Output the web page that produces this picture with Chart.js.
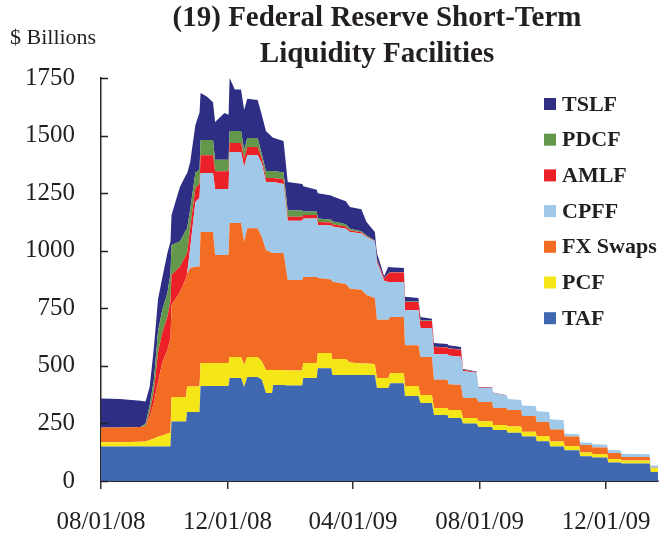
<!DOCTYPE html>
<html>
<head>
<meta charset="utf-8">
<title>Federal Reserve Short-Term Liquidity Facilities</title>
<script src="https://cdn.jsdelivr.net/npm/chart.js@4.4.1/dist/chart.umd.min.js"></script>
<style>
  html, body { margin: 0; padding: 0; background: #fff; }
  #wrap { width: 659px; height: 535px; }
</style>
</head>
<body>
<div id="wrap"><canvas id="facilities_chart" width="659" height="535"></canvas></div>
<script>
// days since 08/01/08 (steps kept as pairs of close days)
const days = [0, 18, 38, 43, 47, 51, 55, 59, 64, 67, 68, 76, 82, 83, 86, 91, 95, 96, 102, 108,
  110, 119, 123, 124, 129, 135, 138, 141, 151, 155, 159, 165, 166, 176, 180, 194, 195, 208, 209, 222,
  223, 236, 240, 251, 256, 264, 266, 273, 277, 279, 292, 293, 306, 308, 319, 321, 334, 335, 347, 349,
  362, 364, 377, 378, 391, 392, 405, 406, 419, 420, 432, 433, 446, 447, 461, 462, 473, 474, 488, 489,
  501, 502, 529, 530, 537];

// $ billions
const taf = [150, 150, 150, 150, 150, 150, 150, 150, 150, 150, 258, 258, 258, 300, 300, 300, 300, 412, 412, 412,
  412, 412, 412, 447, 447, 447, 408, 452, 452, 440, 382, 382, 417, 417, 415, 415, 447, 447, 490, 490,
  460, 460, 460, 460, 460, 460, 404, 404, 404, 425, 425, 369, 369, 339, 339, 287, 287, 274, 274, 250,
  250, 234, 234, 221, 221, 210, 210, 193, 193, 173, 173, 150, 150, 134, 134, 108, 108, 102, 102, 80,
  80, 76, 76, 39, 39];
const pcf = [18, 18, 20, 22, 28, 35, 42, 48, 55, 60, 107, 107, 107, 110, 110, 110, 110, 100, 100, 100,
  100, 100, 100, 91, 91, 91, 96, 86, 86, 80, 100, 100, 65, 65, 65, 65, 65, 65, 66, 66,
  70, 70, 55, 50, 50, 48, 43, 43, 43, 44, 44, 43, 43, 34, 34, 30, 30, 34, 34, 24,
  24, 26, 26, 22, 22, 27, 27, 21, 21, 22, 22, 21, 21, 18, 18, 16, 16, 15, 15, 16,
  16, 13, 13, 17, 17];
const fxSwaps = [64, 64, 65, 68, 102, 155, 238, 314, 364, 410, 399, 455, 515, 490, 515, 520, 520, 569, 569, 569,
  469, 469, 469, 582, 582, 582, 534, 560, 560, 540, 521, 508, 508, 508, 393, 393, 374, 374, 325, 319,
  335, 325, 320, 320, 298, 287, 253, 253, 253, 243, 243, 178, 178, 165, 165, 123, 123, 112, 109, 86,
  86, 83, 83, 74, 74, 71, 71, 68, 68, 61, 61, 53, 53, 41, 41, 32, 32, 28, 28, 26,
  26, 15, 15, 2, 2];
const cpff = [0, 0, 0, 0, 0, 0, 0, 0, 0, 0, 0, 0, 0, 0, 87, 281, 300, 256, 256, 256,
  287, 287, 287, 309, 309, 309, 325, 317, 317, 320, 295, 308, 308, 300, 257, 257, 254, 254, 231, 235,
  240, 240, 246, 245, 252, 245, 250, 170, 164, 152, 152, 152, 152, 126, 126, 110, 110, 125, 123, 118,
  110, 61, 61, 65, 53, 48, 44, 46, 44, 47, 44, 44, 40, 12, 10, 11, 10, 15, 12, 13,
  12, 14, 12, 9, 9];
const amlf = [0, 0, 0, 0, 20, 50, 130, 131, 143, 160, 130, 110, 100, 90, 88, 61, 60, 78, 78, 78,
  77, 77, 77, 39, 39, 39, 37, 35, 35, 20, 18, 18, 18, 20, 18, 18, 15, 15, 13, 12,
  10, 10, 7, 5, 3, 2, 10, 10, 36, 41, 41, 35, 35, 31, 31, 32, 30, 30, 30, 5,
  3, 2, 2, 1, 1, 0, 0, 0, 0, 0, 0, 0, 0, 0, 0, 0, 0, 0, 0, 0,
  0, 0, 0, 0, 0];
const pdcf = [0, 0, 0, 10, 30, 50, 90, 99, 104, 120, 131, 110, 110, 105, 80, 68, 60, 66, 66, 66,
  50, 50, 50, 52, 52, 52, 37, 39, 39, 20, 30, 30, 30, 30, 27, 27, 15, 15, 15, 13,
  13, 10, 7, 5, 3, 2, 2, 2, 2, 2, 2, 2, 2, 2, 2, 1, 1, 1, 1, 0,
  0, 0, 0, 0, 0, 0, 0, 0, 0, 0, 0, 0, 0, 0, 0, 0, 0, 0, 0, 0,
  0, 0, 0, 0, 0];
const tslf = [126, 124, 113, 95, 80, 140, 140, 138, 174, 140, 130, 236, 240, 240, 205, 206, 250, 204, 189, 164,
  164, 203, 195, 230, 180, 180, 174, 171, 166, 170, 174, 148, 144, 136, 123, 115, 110, 95, 110, 105,
  109, 100, 95, 95, 59, 37, 28, 8, 28, 21, 18, 21, 16, 15, 8, 16, 14, 14, 11, 3,
  2, 2, 1, 1, 1, 0, 0, 0, 0, 0, 0, 0, 0, 0, 0, 0, 0, 0, 0, 0,
  0, 0, 0, 0, 0];

const seriesNames = ['TAF', 'PCF', 'FX Swaps', 'CPFF', 'AMLF', 'PDCF', 'TSLF'];
const seriesColors = ['#4068b0', '#f5e617', '#f26c23', '#a0c8e8', '#ec2027', '#63984a', '#2e2e85'];

const tickDays = [0, 122, 243, 365, 487];
const tickLabels = ['08/01/08', '12/01/08', '04/01/09', '08/01/09', '12/01/09'];

const titleLines = ['(19) Federal Reserve Short-Term', 'Liquidity Facilities'];
const unitLabel = '$ Billions';

const serif = '"Liberation Serif", "Times New Roman", serif';
const ink = '#231f20';

function points(values) {
  return days.map((d, i) => ({ x: d, y: values[i] }));
}

const allSeries = [taf, pcf, fxSwaps, cpff, amlf, pdcf, tslf];
const datasets = allSeries.map((vals, i) => ({
  label: seriesNames[i],
  data: points(vals),
  backgroundColor: seriesColors[i],
  borderColor: seriesColors[i],
  borderWidth: 0,
  pointRadius: 0,
  tension: 0,
  fill: i === 0 ? 'origin' : '-1'
}));

// title, unit, inward y ticks and the legend box
const chartDecor = {
  id: 'chartDecor',
  afterDraw(chart) {
    const ctx = chart.ctx;
    const area = chart.chartArea;
    const yScale = chart.scales.y;
    ctx.save();

    ctx.strokeStyle = ink;
    ctx.lineWidth = 1.5;
    yScale.ticks.forEach(function(t) {
      const py = Math.round(yScale.getPixelForValue(t.value)) + 0.5;
      ctx.beginPath();
      ctx.moveTo(area.left, py);
      ctx.lineTo(area.left + 7, py);
      ctx.stroke();
    });

    ctx.fillStyle = ink;
    ctx.textAlign = 'center';
    ctx.textBaseline = 'middle';
    ctx.font = 'bold 29px ' + serif;
    const cx = 377;
    ctx.fillText(titleLines[0], cx, 19);
    ctx.fillText(titleLines[1], cx, 55);

    ctx.textAlign = 'left';
    ctx.font = '22px ' + serif;
    ctx.fillText(unitLabel, 10, 38);

    ctx.font = 'bold 22px ' + serif;
    const ds = chart.data.datasets;
    for (let i = 0; i < ds.length; i++) {
      const d = ds[ds.length - 1 - i];
      const ly = 104 + i * 35.7;
      ctx.fillStyle = d.backgroundColor;
      ctx.fillRect(544, ly - 6, 12, 12);
      ctx.fillStyle = ink;
      ctx.fillText(d.label, 562, ly + 1);
    }
    ctx.restore();
  }
};

const ctx = document.getElementById('facilities_chart').getContext('2d');
const facilitiesChart = new Chart(ctx, {
  type: 'line',
  data: { datasets: datasets },
  options: {
    responsive: false,
    animation: false,
    devicePixelRatio: 1,
    layout: { padding: { top: 78, right: 1, left: 0, bottom: 0 } },
    plugins: {
      legend: { display: false },
      tooltip: { enabled: false },
      title: { display: false }
    },
    scales: {
      x: {
        type: 'linear',
        min: 0,
        max: days[days.length - 1],
        z: 1,
        afterBuildTicks: function(scale) {
          scale.ticks = tickDays.map(v => ({ value: v }));
        },
        afterFit: function(scale) {
          scale.height = 54;
          scale.paddingLeft = 0;
          scale.paddingRight = 0;
        },
        ticks: {
          autoSkip: false,
          maxRotation: 0,
          padding: 18,
          color: ink,
          font: { family: serif, size: 25 },
          callback: function(value) {
            const k = tickDays.indexOf(value);
            return k >= 0 ? tickLabels[k] : '';
          }
        },
        grid: { drawOnChartArea: false, drawTicks: true, tickLength: 8, color: '#333', lineWidth: 1.5 },
        border: { display: true, color: '#2a2a2a', width: 2 }
      },
      y: {
        stacked: true,
        min: 0,
        max: 1750,
        z: 1,
        afterFit: function(scale) { scale.width = 101; },
        ticks: {
          stepSize: 250,
          padding: 26,
          color: ink,
          font: { family: serif, size: 25 },
          callback: function(value) { return String(value); }
        },
        grid: { drawOnChartArea: false, drawTicks: false },
        border: { display: true, color: '#2a2a2a', width: 1.5 }
      }
    }
  },
  plugins: [chartDecor]
});
</script>
</body>
</html>
